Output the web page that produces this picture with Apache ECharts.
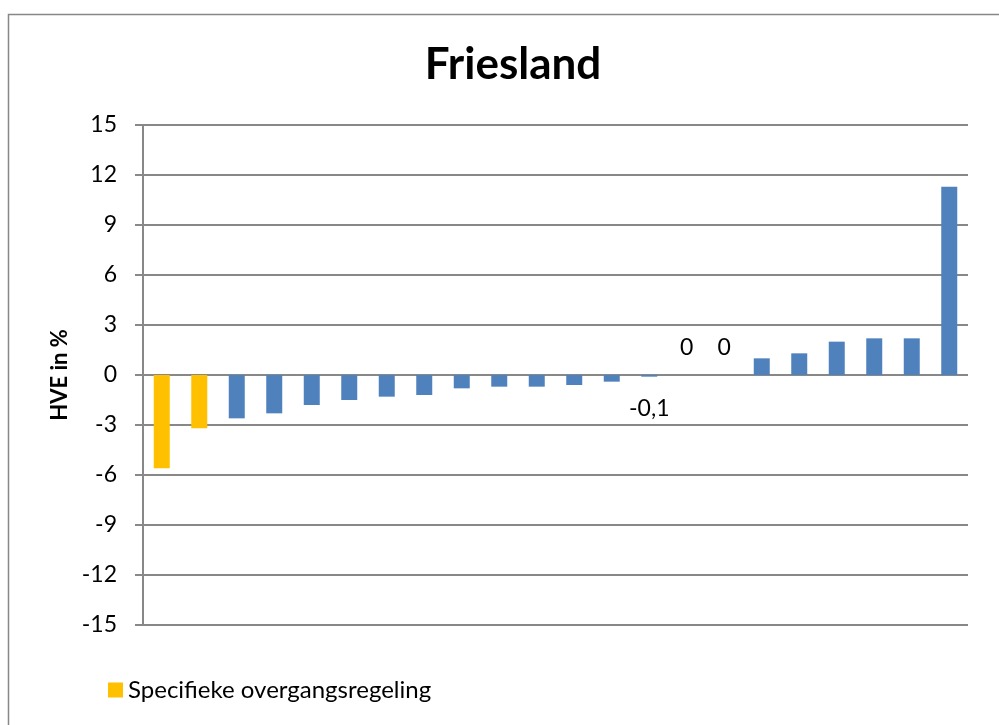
<!DOCTYPE html>
<html><head><meta charset="utf-8">
<script src="https://cdn.jsdelivr.net/npm/echarts@6/dist/echarts.min.js"></script>
<style>html,body{margin:0;padding:0;background:#fff}#c{width:999px;height:725px}</style>
</head><body><div id="c"></div>
<script>
const categories = ['1','2','3','4','5','6','7','8','9','10','11','12','13','14','15','16','17','18','19','20','21','22'];
const specifiekeValues = [-5.6, -3.2, '-', '-', '-', '-', '-', '-', '-', '-', '-', '-', '-', '-', '-', '-', '-', '-', '-', '-', '-', '-'];
const overigeValues = ['-', '-', -2.6, -2.3, -1.8, -1.5, -1.3, -1.2, -0.8, -0.7, -0.7, -0.6, -0.4, -0.1, 0, 0, 1.0, 1.3, 2.0, 2.2, 2.2, 11.3];
const labelledIndices = [13, 14, 15];
const yTicks = [-15, -12, -9, -6, -3, 0, 3, 6, 9, 12, 15];

const chart = echarts.init(document.getElementById('c'));
const font = 'Lato, "Open Sans", sans-serif';
chart.setOption({
  animation: false,
  backgroundColor: '#fff',
  graphic: [{type:'rect', shape:{x:8.5, y:14.5, width:1100, height:800}, style:{fill:'none', stroke:'#888', lineWidth:1.5}, z:-1}],
  title: {text:'Friesland', left:508, top:38, textAlign:'center', textStyle:{fontFamily:font, fontWeight:'bold', fontSize:44, color:'#000'}},
  legend: {data:['Specifieke overgangsregeling'], left:103, top:673, itemWidth:15, itemHeight:15, icon:'rect', itemGap:6,
    textStyle:{fontFamily:font, fontSize:24, color:'#000'}},
  grid: {left:143, right:31, top:125, bottom:100},
  xAxis: {type:'category', data:categories, axisLabel:{show:false}, axisTick:{show:false},
    axisLine:{show:false}},
  yAxis: {type:'value', min:yTicks[0], max:yTicks[yTicks.length-1], interval:3,
    name:'HVE in %', nameLocation:'middle', nameGap:72, nameRotate:90,
    nameTextStyle:{fontFamily:font, fontWeight:'bold', fontSize:22, color:'#000'},
    axisLine:{show:true, lineStyle:{color:'#888', width:2}},
    axisTick:{show:true, inside:false, length:8, lineStyle:{color:'#888', width:2}},
    axisLabel:{fontFamily:font, fontSize:23, color:'#000', margin:26},
    splitLine:{show:true, lineStyle:{color:'#888', width:2}}},
  series: [
    {name:'Specifieke overgangsregeling', type:'bar', data:specifiekeValues, barWidth:16, barGap:'-100%',
      itemStyle:{color:'#FFC000'}},
    {name:'Overig', type:'bar', data:overigeValues.map((v,i)=>{
        if (labelledIndices.includes(i)) {
          const neg = v < 0;
          return {value:v, label:{show:true, position: neg ? 'bottom' : 'top', distance: neg ? 20 : 16,
            formatter: String(v).replace('.', ','), fontFamily:font, fontSize:23, color:'#000'}};
        }
        return v;
      }), barWidth:16, barGap:'-100%',
      itemStyle:{color:'#4F81BD'}}
  ]
});
</script></body></html>
